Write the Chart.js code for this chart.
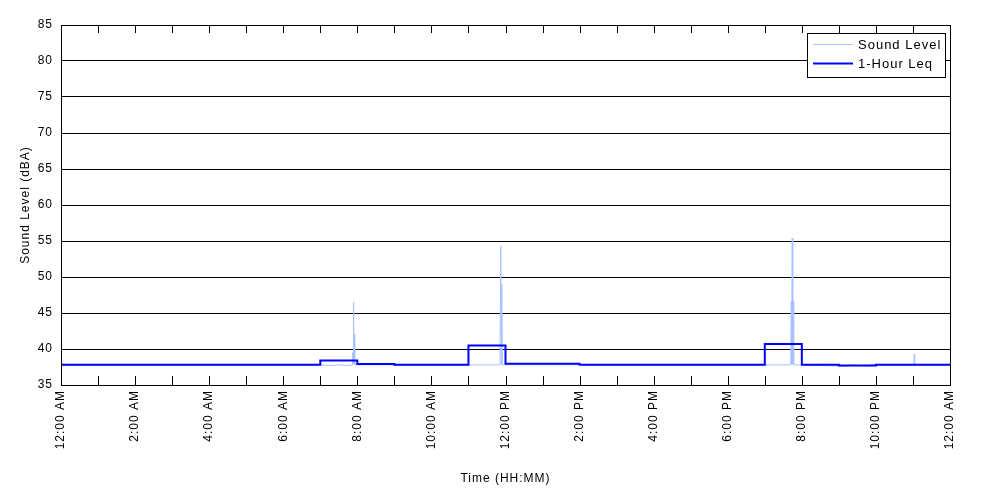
<!DOCTYPE html>
<html>
<head>
<meta charset="utf-8">
<script src="https://cdn.jsdelivr.net/npm/chart.js@4"></script>
<style>
  body { margin: 0; background: #fff; }
  canvas { display: block; }
</style>
</head>
<body>
<canvas id="myChart" width="1000" height="500"></canvas>
<script>
// hours since midnight, sound level in dBA
const soundTimes = [0, 7.0, 7.3, 7.5, 7.7, 7.86, 7.875, 7.885, 7.895, 7.905, 7.92, 7.93, 8.2,
  11.85, 11.873, 11.885, 11.9, 11.915, 12.5, 19.70, 19.715, 19.725, 19.74, 19.755, 19.765, 19.78,
  21.24, 21.25, 21.84, 21.85, 23.02, 23.035, 23.045, 23.06, 24];
const soundValues = [37.8, 37.8, 37.7, 37.8, 37.7, 37.8, 39.5, 37.9, 46.5, 38.0, 42.0, 37.8, 37.8,
  37.8, 54.3, 37.9, 49.0, 37.8, 37.8, 37.8, 46.6, 37.9, 55.4, 37.9, 46.6, 37.8,
  37.6, 37.8, 37.6, 37.8, 37.8, 39.3, 38.8, 37.8, 37.8];

// 1-hour Leq, value at h covers the hour starting at h
const leqHours = [0,1,2,3,4,5,6,7,8,9,10,11,12,13,14,15,16,17,18,19,20,21,22,23,24];
const leqValues = [37.8,37.8,37.8,37.8,37.8,37.8,37.8,38.4,37.9,37.8,37.8,40.5,37.95,37.95,37.8,37.8,37.8,37.8,37.8,40.7,37.8,37.7,37.8,37.8,37.8];

const xTickLabels = ["12:00 AM","2:00 AM","4:00 AM","6:00 AM","8:00 AM","10:00 AM","12:00 PM",
  "2:00 PM","4:00 PM","6:00 PM","8:00 PM","10:00 PM","12:00 AM"];
const yTicks = [35,40,45,50,55,60,65,70,75,80,85];

const FONT = "'Liberation Sans', Arial, sans-serif";

// wider letter spacing like the original bitmap font
const spacingPlugin = {
  id: 'spacing',
  beforeUpdate(chart) { chart.ctx.letterSpacing = '1px'; },
  beforeLayout(chart) { chart.ctx.letterSpacing = '1px'; },
  beforeDraw(chart) { chart.ctx.letterSpacing = '1px'; }
};

// box, inner tick marks and legend drawn like the original plot
const framePlugin = {
  id: 'frame',
  afterDraw(chart) {
    const {ctx, chartArea: a, scales} = chart;
    ctx.save();
    ctx.strokeStyle = '#000';
    ctx.lineWidth = 1;
    ctx.strokeRect(Math.round(a.left) + 0.5, Math.round(a.top) + 0.5,
      Math.round(a.right - a.left), Math.round(a.bottom - a.top));
    ctx.beginPath();
    for (let h = 1; h < 24; h++) {
      const x = Math.round(scales.x.getPixelForValue(h)) + 0.5;
      ctx.moveTo(x, a.bottom);
      ctx.lineTo(x, a.bottom - 9);
      ctx.moveTo(x, a.top);
      ctx.lineTo(x, a.top + 8);
    }
    ctx.stroke();

    // legend
    const lx = a.right - 143, ly = a.top + 8;
    ctx.fillStyle = '#fff';
    ctx.fillRect(lx, ly, 138, 44);
    ctx.strokeRect(lx + 0.5, ly + 0.5, 138, 44);
    const items = chart.data.datasets;
    ctx.font = '13px ' + FONT;
    ctx.textBaseline = 'middle';
    items.forEach((ds, i) => {
      const y = ly + 11.5 + i * 19;
      ctx.strokeStyle = ds.borderColor;
      ctx.lineWidth = ds.borderWidth;
      ctx.beginPath();
      ctx.moveTo(lx + 6, y);
      ctx.lineTo(lx + 46, y);
      ctx.stroke();
      ctx.fillStyle = '#000';
      ctx.fillText(ds.label, lx + 51, y + 1);
    });
    ctx.restore();
  }
};

const ctx = document.getElementById('myChart').getContext('2d');
const myChart = new Chart(ctx, {
  type: 'line',
  data: {
    datasets: [{
      label: 'Sound Level',
      data: soundTimes.map((t, i) => ({x: t, y: soundValues[i]})),
      borderColor: '#a9c1ff',
      borderWidth: 1,
      pointRadius: 0,
      tension: 0,
      order: 2
    }, {
      label: '1-Hour Leq',
      data: leqHours.map((h, i) => ({x: h, y: leqValues[i]})),
      borderColor: '#0000ff',
      borderWidth: 2,
      pointRadius: 0,
      stepped: 'before',
      order: 1
    }]
  },
  options: {
    responsive: false,
    animation: false,
    layout: { padding: { top: 25, right: 50, left: 0, bottom: 0 } },
    plugins: {
      legend: { display: false },
      tooltip: { enabled: false }
    },
    scales: {
      x: {
        type: 'linear',
        min: 0,
        max: 24,
        afterFit(scale) { scale.height = 115; },
        afterBuildTicks(scale) {
          scale.ticks = [];
          for (let h = 0; h <= 24; h += 2) scale.ticks.push({value: h});
        },
        ticks: {
          autoSkip: false,
          minRotation: 90,
          maxRotation: 90,
          padding: 5,
          color: '#000',
          font: { family: FONT, size: 12 },
          callback: (v) => xTickLabels[v / 2]
        },
        grid: { drawOnChartArea: false, drawTicks: false },
        border: { color: '#000' },
        title: {
          display: true,
          text: 'Time (HH:MM)',
          color: '#000',
          font: { family: FONT, size: 12 },
          padding: { top: 0, bottom: 14 }
        }
      },
      y: {
        min: 35,
        max: 85,
        afterFit(scale) { scale.width = 61; },
        afterBuildTicks(scale) {
          scale.ticks = yTicks.map(v => ({value: v}));
        },
        ticks: {
          padding: 8,
          color: '#000',
          font: { family: FONT, size: 12 }
        },
        grid: { color: '#000', drawTicks: false },
        border: { color: '#000' },
        title: {
          display: true,
          text: 'Sound Level (dBA)',
          color: '#000',
          font: { family: FONT, size: 12 },
          padding: { top: 18, bottom: 0 }
        }
      }
    }
  },
  plugins: [spacingPlugin, framePlugin]
});
</script>
</body>
</html>
